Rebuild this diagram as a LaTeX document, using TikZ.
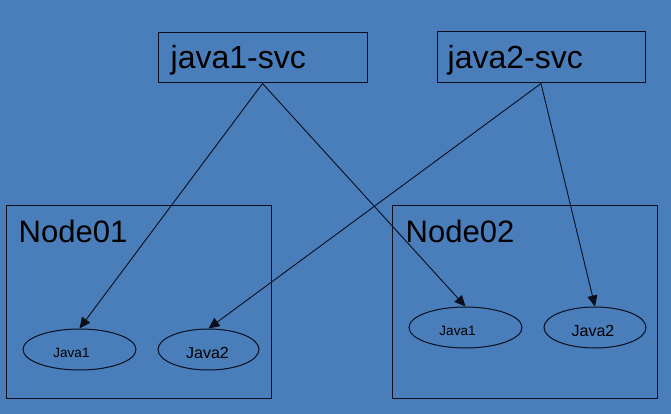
\documentclass[tikz,border=0pt]{standalone}
\usepackage{fontspec}
\setmainfont{Liberation Sans}
\usetikzlibrary{shapes.geometric,arrows.meta,calc}
\definecolor{bg}{RGB}{74,126,187}
\definecolor{ink}{RGB}{8,14,28}
\begin{document}
\begin{tikzpicture}[x=1pt,y=-1pt,
  box/.style={draw=ink,line width=1pt,rectangle,inner sep=0pt},
  pod/.style={draw=ink,line width=1pt,ellipse,inner sep=0pt,minimum height=41pt},
  bigtext/.style={anchor=base west,inner sep=0pt,font=\fontsize{31}{31}\selectfont},
  svctext/.style={bigtext,font=\fontsize{32}{32}\selectfont},
  link/.style={draw=ink,line width=0.9pt,-{Triangle[length=11pt,width=10pt]}}]
  % background
  \fill[bg] (0,0) rectangle (671,414);
  \useasboundingbox (0,0) rectangle (671,414);

  % services
  \node[box,minimum width=209pt,minimum height=50pt] (s1) at (262.5,58) {};
  \node[svctext] (s1t) at ($(s1.west)+(13,11)$) {java1-svc};
  \node[box,minimum width=208pt,minimum height=51pt] (s2) at (541,57.5) {};
  \node[svctext] (s2t) at ($(s2.west)+(11,11.5)$) {java2-svc};

  % worker nodes
  \node[box,minimum width=265pt,minimum height=193pt] (n1) at (138.5,301.5) {};
  \node[bigtext] (n1t) at ($(n1.north west)+(13,38)$) {Node01};
  \node[box,minimum width=265pt,minimum height=193pt] (n2) at (524.5,301.5) {};
  \node[bigtext] (n2t) at ($(n2.north west)+(14,38)$) {Node02};

  % pods
  \node[pod,minimum width=113pt] (p11) at (79.5,349.5) {};
  \node[anchor=base,inner sep=0pt,font=\fontsize{13.5}{13.5}\selectfont] at ($(p11.center)+(-8,7.5)$) {Java1};
  \node[pod,minimum width=101pt] (p12) at (208.5,349.5) {};
  \node[anchor=base,inner sep=0pt,font=\fontsize{16}{16}\selectfont] at ($(p12.center)+(-1,8.5)$) {Java2};
  \node[pod,minimum width=113pt] (p21) at (465.5,327.5) {};
  \node[anchor=base,inner sep=0pt,font=\fontsize{13.5}{13.5}\selectfont] at ($(p21.center)+(-8,7.5)$) {Java1};
  \node[pod,minimum width=102pt] (p22) at (595,327.5) {};
  \node[anchor=base,inner sep=0pt,font=\fontsize{16}{16}\selectfont] at ($(p22.center)+(-2,8.5)$) {Java2};

  % service routing
  \draw[link] (s1.south) -- (p11.north);
  \draw[link] (s1.south) -- (p21.north);
  \draw[link] (s2.south) -- (p12.north);
  \draw[link] (s2.south) -- (p22.north);
\end{tikzpicture}
\end{document}
